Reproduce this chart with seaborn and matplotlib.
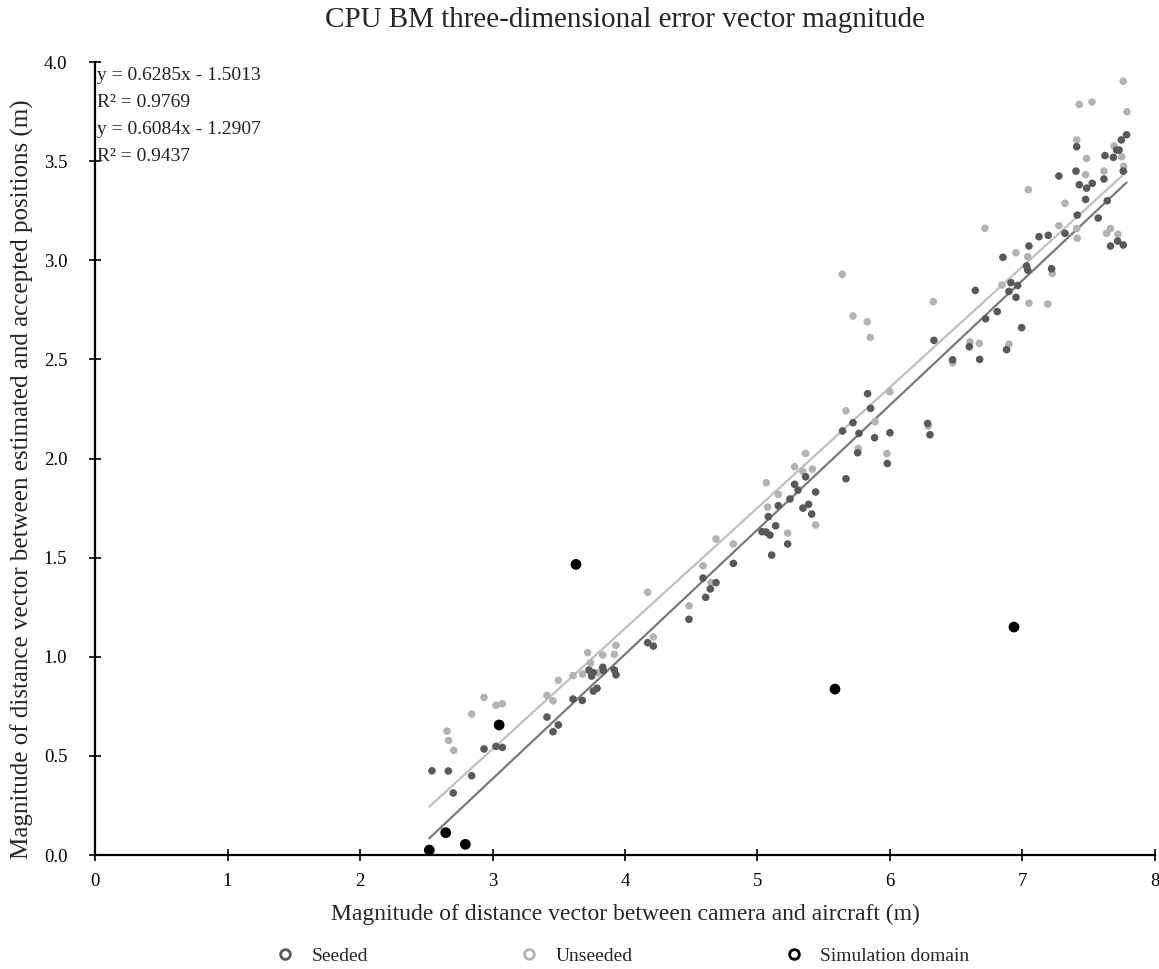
import numpy as np
import pandas as pd
import matplotlib
matplotlib.use("Agg")
import matplotlib.pyplot as plt
import seaborn as sns
from matplotlib.lines import Line2D

sns.set_style("white")
plt.rcParams['font.family'] = ['Liberation Serif', 'DejaVu Serif']

title = "CPU BM three-dimensional error vector magnitude"
xlabel = "Magnitude of distance vector between camera and aircraft (m)"
ylabel = "Magnitude of distance vector between estimated and accepted positions (m)"
series_names = ["Seeded", "Unseeded", "Simulation domain"]

seeded_x = [2.543, 2.667, 2.704, 2.843, 2.936, 3.026, 3.074, 3.411, 3.457, 3.497,
            3.608, 3.678, 3.728, 3.748, 3.760, 3.761, 3.789, 3.832, 3.837, 3.920,
            3.932, 4.171, 4.214, 4.483, 4.589, 4.609, 4.644, 4.687, 4.818, 5.034,
            5.064, 5.094, 5.107, 5.082, 5.137, 5.157, 5.228, 5.245, 5.280, 5.306,
            5.363, 5.343, 5.386, 5.409, 5.439, 5.642, 5.668, 5.831, 5.854, 5.721,
            5.766, 5.884, 6.000, 5.756, 5.980, 6.284, 6.302, 6.332, 6.473, 6.599,
            6.644, 6.677, 6.722, 6.810, 6.853, 6.880, 6.898, 6.913, 6.951, 6.964,
            6.994, 7.031, 7.040, 7.049, 7.125, 7.195, 7.220, 7.275, 7.321, 7.404,
            7.409, 7.414, 7.429, 7.477, 7.484, 7.527, 7.572, 7.615, 7.623, 7.640,
            7.665, 7.686, 7.711, 7.718, 7.730, 7.746, 7.761, 7.761, 7.786]
seeded_y = [0.425, 0.424, 0.313, 0.400, 0.535, 0.548, 0.543, 0.696, 0.622, 0.656,
            0.787, 0.780, 0.933, 0.903, 0.920, 0.827, 0.841, 0.947, 0.930, 0.933,
            0.909, 1.071, 1.054, 1.189, 1.397, 1.300, 1.342, 1.374, 1.471, 1.631,
            1.629, 1.614, 1.513, 1.707, 1.661, 1.762, 1.569, 1.796, 1.870, 1.841,
            1.908, 1.750, 1.769, 1.720, 1.831, 2.139, 1.898, 2.327, 2.253, 2.181,
            2.127, 2.105, 2.130, 2.029, 1.975, 2.177, 2.120, 2.596, 2.498, 2.564,
            2.848, 2.500, 2.705, 2.741, 3.015, 2.549, 2.843, 2.887, 2.813, 2.873,
            2.660, 2.971, 2.950, 3.072, 3.119, 3.126, 2.957, 3.425, 3.136, 3.450,
            3.573, 3.228, 3.381, 3.307, 3.364, 3.388, 3.213, 3.410, 3.528, 3.300,
            3.072, 3.519, 3.556, 3.097, 3.556, 3.607, 3.450, 3.077, 3.633]

unseeded_x = [2.657, 2.669, 2.707, 2.843, 2.936, 3.026, 3.074, 3.411, 3.457, 3.497,
              3.608, 3.680, 3.718, 3.740, 3.796, 3.832, 3.920, 3.932, 4.171, 4.214,
              4.483, 4.589, 4.649, 4.687, 4.818, 5.066, 5.077, 5.157, 5.228, 5.280,
              5.343, 5.363, 5.414, 5.439, 5.668, 5.640, 5.721, 5.829, 5.851, 5.887,
              5.761, 5.977, 6.000, 6.289, 6.327, 6.473, 6.604, 6.674, 6.717, 6.845,
              6.898, 6.951, 7.039, 7.044, 7.049, 7.192, 7.225, 7.275, 7.321, 7.409,
              7.409, 7.414, 7.429, 7.477, 7.484, 7.525, 7.615, 7.635, 7.665, 7.691,
              7.721, 7.749, 7.761, 7.764, 7.789]
unseeded_y = [0.625, 0.578, 0.528, 0.711, 0.795, 0.755, 0.763, 0.805, 0.778, 0.881,
              0.905, 0.913, 1.021, 0.970, 0.920, 1.009, 1.012, 1.058, 1.325, 1.100,
              1.257, 1.459, 1.374, 1.594, 1.569, 1.878, 1.755, 1.819, 1.624, 1.959,
              1.934, 2.026, 1.947, 1.665, 2.241, 2.929, 2.719, 2.690, 2.611, 2.186,
              2.051, 2.025, 2.337, 2.164, 2.791, 2.483, 2.588, 2.581, 3.161, 2.875,
              2.577, 3.038, 3.018, 3.356, 2.784, 2.779, 2.934, 3.175, 3.287, 3.607,
              3.160, 3.111, 3.786, 3.432, 3.513, 3.798, 3.450, 3.136, 3.160, 3.576,
              3.131, 3.522, 3.903, 3.475, 3.749]

sim_x = [2.523, 2.647, 2.795, 3.050, 3.630, 5.585, 6.936]
sim_y = [0.025, 0.113, 0.054, 0.656, 1.466, 0.837, 1.150]

# trendline coefficients as displayed on the chart
seeded_fit = (0.6285, -1.5013, 0.9769)
unseeded_fit = (0.6084, -1.2907, 0.9437)

x_ticks = [0, 1, 2, 3, 4, 5, 6, 7, 8]
y_ticks = [0.0, 0.5, 1.0, 1.5, 2.0, 2.5, 3.0, 3.5, 4.0]

c_seeded = "#595959"
c_unseeded = "#b3b3b3"
c_sim = "#000000"

fig = plt.figure(figsize=(11.59, 9.69), dpi=100)
ax = fig.add_axes([0.082, 0.1176, 0.9145, 0.8184])

df_s = pd.DataFrame({"x": seeded_x, "y": seeded_y})
df_u = pd.DataFrame({"x": unseeded_x, "y": unseeded_y})
df_m = pd.DataFrame({"x": sim_x, "y": sim_y})

sns.scatterplot(data=df_u, x="x", y="y", ax=ax, color=c_unseeded, s=30,
                edgecolor="none", zorder=3, legend=False)
sns.scatterplot(data=df_s, x="x", y="y", ax=ax, color=c_seeded, s=30,
                edgecolor="none", zorder=4, legend=False)
sns.scatterplot(data=df_m, x="x", y="y", ax=ax, color=c_sim, s=60,
                edgecolor="none", zorder=5, legend=False)

for xs, fit, col in [(seeded_x, seeded_fit, "#7a7a7a"), (unseeded_x, unseeded_fit, "#c0c0c0")]:
    xr = np.array([min(xs + sim_x), max(xs)])
    sns.lineplot(x=xr, y=fit[0] * xr + fit[1], ax=ax, color=col, lw=1.6, zorder=2)

ax.set_xlim(0, 8)
ax.set_ylim(0, 4)
ax.set_xticks(x_ticks)
ax.set_yticks(y_ticks)
ax.set_yticklabels([f"{v:.1f}" for v in y_ticks])
ax.tick_params(axis="both", direction="inout", length=8, width=1.2, labelsize=13.5,
               colors="black", bottom=True, left=True)
ax.tick_params(axis="x", pad=9)
ax.tick_params(axis="y", pad=16)
for sp in ["top", "right"]:
    ax.spines[sp].set_visible(False)
for sp in ["left", "bottom"]:
    ax.spines[sp].set_color("black")
    ax.spines[sp].set_linewidth(1.6)
ax.grid(False)

ax.set_xlabel(xlabel, fontsize=17)
ax.set_ylabel(ylabel, fontsize=18)
ax.xaxis.set_label_coords(0.5, -0.061)
ax.yaxis.set_label_coords(-0.058, 0.474)
fig.text(0.539, 0.979, title, fontsize=21, ha="center", va="center")

eq_lines = [f"y = {seeded_fit[0]:.4f}x - {abs(seeded_fit[1]):.4f}",
            f"R\u00b2 = {seeded_fit[2]:.4f}",
            f"y = {unseeded_fit[0]:.4f}x - {abs(unseeded_fit[1]):.4f}",
            f"R\u00b2 = {unseeded_fit[2]:.4f}"]
for i, t in enumerate(eq_lines):
    ax.text(0.012, 3.932 - i * 0.136, t, fontsize=14, color="#222222",
            ha="left", va="center", zorder=6)

handles = [Line2D([], [], marker="o", ls="none", markerfacecolor="white",
                  markeredgecolor=c, markeredgewidth=2.0, markersize=7)
           for c in [c_seeded, c_unseeded, c_sim]]
fig.legend(handles, series_names, loc="center", ncol=3, frameon=False,
           fontsize=14, handlelength=1.0, handletextpad=0.84, columnspacing=7.8,
           bbox_to_anchor=(0.537, 0.013))

fig.savefig("out.png", dpi=100)
